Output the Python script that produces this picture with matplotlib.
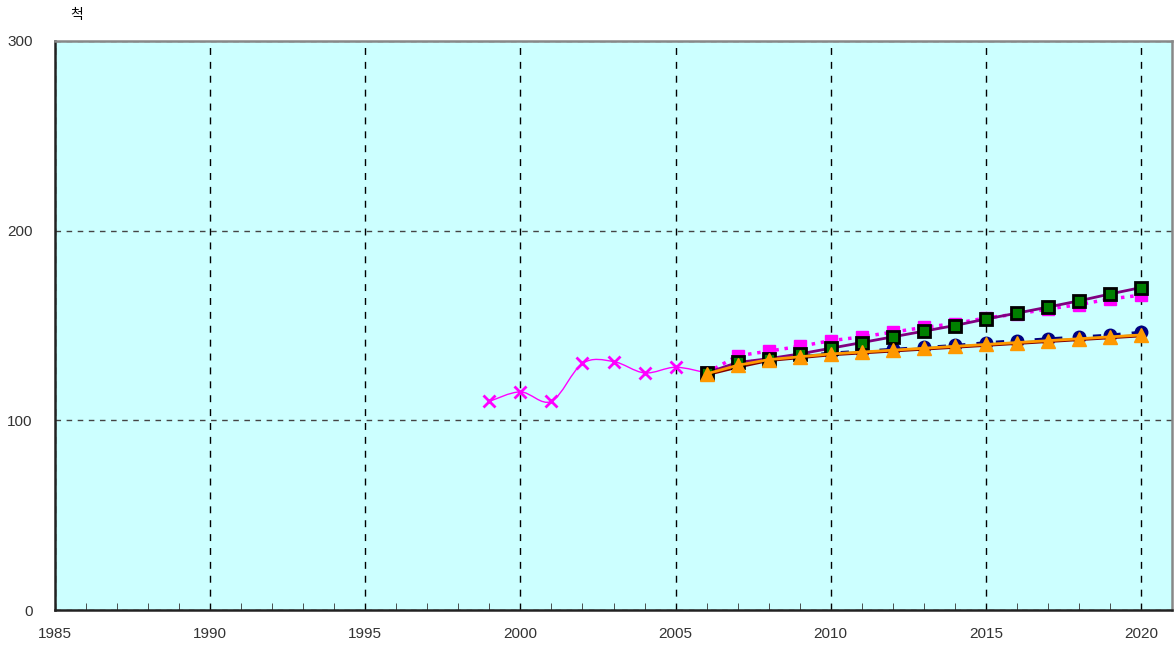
import numpy as np
import matplotlib
matplotlib.use('Agg')
import matplotlib.pyplot as plt
from matplotlib.path import Path
from matplotlib.patches import PathPatch

plt.rcParams['font.family'] = ['Liberation Sans', 'Noto Sans CJK KR', 'DejaVu Sans']

# 실적 (x 마커)
years_hist = [1999, 2000, 2001, 2002, 2003, 2004, 2005, 2006]
hist = [110, 115, 110, 130, 131, 125, 128, 125]

# 전망 시리즈
years_fc = list(range(2006, 2021))
pink_sq = [125, 134, 136.5, 139, 142, 144, 146.5, 149, 151, 154, 156, 158.7, 161, 164, 166]
green_sq = [125, 130.5, 132.5, 135, 138, 141, 144, 147, 150, 153.4, 156.5, 159.7, 163, 166.6, 170]
navy_ci = [125, 130, 132.5, 134, 135.5, 136.5, 137.5, 138.5, 139.5, 141, 142, 143, 144, 145, 146.5]
teal_ln = [125, 130, 132.5, 134, 135, 136, 137, 138, 139, 140, 141, 142, 143, 144, 145]
red_ln = [124, 128, 131.5, 133, 134.5, 135.5, 136.5, 137.5, 138.5, 139.5, 140.5, 141.5, 142.5, 143.5, 144.5]
orange_tr = [124.5, 129, 132, 133.5, 135, 136, 137, 138, 139, 140, 141, 142, 143, 144, 145]


def smooth_path(xs, ys, t=0.5):
    # 곡선 연결 (Catmull-Rom -> Bezier)
    pts = np.column_stack([xs, ys]).astype(float)
    verts = [pts[0]]
    codes = [Path.MOVETO]
    n = len(pts)
    for i in range(n - 1):
        p0 = pts[i - 1] if i > 0 else pts[i]
        p1, p2 = pts[i], pts[i + 1]
        p3 = pts[i + 2] if i + 2 < n else pts[i + 1]
        c1 = p1 + (p2 - p0) * t / 3
        c2 = p2 - (p3 - p1) * t / 3
        verts += [c1, c2, p2]
        codes += [Path.CURVE4] * 3
    return Path(verts, codes)


fig = plt.figure(figsize=(11.76, 6.53), dpi=100)
ax = fig.add_axes([55 / 1176, 1 - 610 / 653, (1172 - 55) / 1176, (610 - 41) / 653])
ax.set_facecolor('#ccffff')

ax.add_patch(PathPatch(smooth_path(years_hist, hist), fill=False, color='#ff00ff', lw=1, zorder=3))
ax.plot(years_hist, hist, ls='none', marker='x', ms=9, mew=2, color='#ff00ff', zorder=4)

ax.plot(years_fc, pink_sq, ls=':', lw=2.5, color='#ff00ff', marker='s', ms=9, mec='#ff00ff', zorder=4)
ax.plot(years_fc, navy_ci, ls=(0, (3, 4)), lw=2, color='#000080', marker='o', ms=9, zorder=4)
ax.plot(years_fc, green_sq, ls='-', lw=2, color='#800080', marker='s', ms=9,
        mfc='#008000', mec='black', mew=2, zorder=5)
ax.plot(years_fc, teal_ln, ls='-', lw=1.5, color='#008080', marker='o', ms=3, zorder=4)
ax.plot(years_fc, red_ln, ls='-', lw=2, color='#800000', zorder=4)
ax.plot(years_fc, orange_tr, ls='-', lw=2, color='#ff9900', marker='^', ms=10, zorder=6)

ax.set_xlim(1985, 2021)
ax.set_ylim(0, 300)
ax.set_xticks(range(1985, 2021, 5))
ax.set_xticks(range(1985, 2021), minor=True)
ax.set_yticks([0, 100, 200, 300])
ax.xaxis.grid(True, which='major', ls=(0, (5, 5)), color='black', lw=1)
ax.yaxis.grid(True, which='major', ls=(0, (4, 4)), color='#444444', lw=1)
ax.tick_params(axis='x', which='both', direction='in', length=5, pad=12, labelsize=11, colors='#333333')
ax.tick_params(axis='x', which='major', length=0)
ax.tick_params(axis='y', length=0, pad=16, labelsize=11)
for lbl in ax.get_xticklabels() + ax.get_yticklabels():
    lbl.set_color('#333333')

for s in ['left', 'bottom']:
    ax.spines[s].set_color('#222222')
    ax.spines[s].set_linewidth(1.8)
for s in ['top', 'right']:
    ax.spines[s].set_color('#888888')
    ax.spines[s].set_linewidth(1.8)

fig.text(77 / 1176, 1 - 15 / 653, '척', fontsize=10, ha='center', va='center',
         family=['Noto Sans CJK KR', 'DejaVu Sans'])

fig.savefig('out.png', dpi=100)
